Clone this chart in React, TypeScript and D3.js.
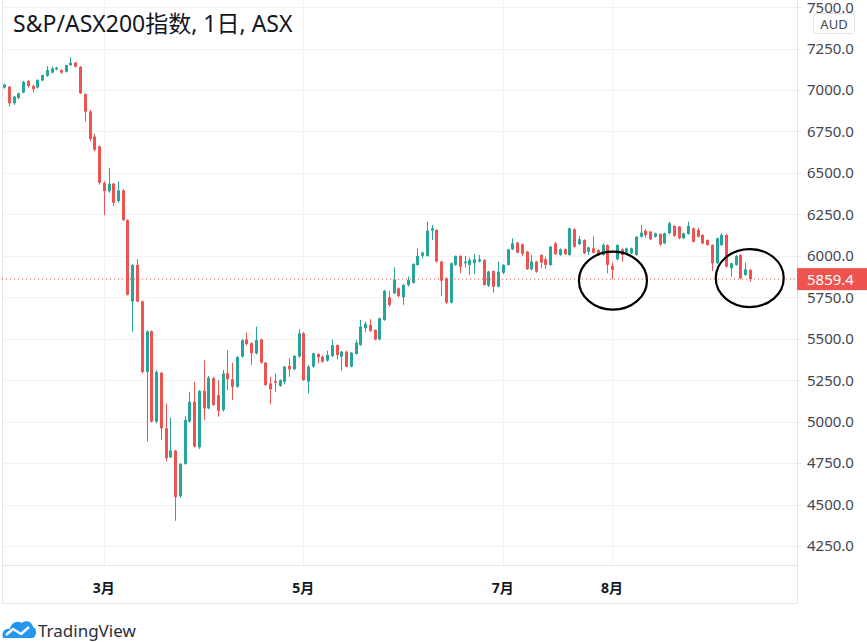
import React from 'react';
import * as d3 from 'd3';

// open, high, low, close
type Candle = [number, number, number, number];

const feb: Candle[] = [
  [7015, 7040, 7008, 7032], [7020, 7025, 6900, 6920], [6920, 6965, 6910, 6960],
  [6952, 6985, 6945, 6980], [6985, 7055, 6980, 7050], [7055, 7060, 7015, 7025],
  [7025, 7030, 6985, 7005], [7015, 7065, 7010, 7060], [7058, 7092, 7052, 7090],
  [7085, 7145, 7080, 7120], [7105, 7140, 7100, 7130], [7125, 7140, 7118, 7135],
  [7120, 7125, 7098, 7105], [7110, 7152, 7105, 7150], [7150, 7197, 7145, 7165],
  [7165, 7170, 7135, 7140], [7140, 7145, 6975, 6980], [6975, 6980, 6810, 6870],
  [6870, 6880, 6690, 6705], [6720, 6735, 6630, 6640], [6660, 6665, 6430, 6440],
];
const mar: Candle[] = [
  [6440, 6450, 6245, 6390], [6390, 6530, 6380, 6435], [6435, 6440, 6300, 6320],
  [6330, 6450, 6320, 6395], [6395, 6400, 6210, 6215], [6215, 6220, 5760, 5765],
  [5725, 5950, 5540, 5945], [5945, 5980, 5720, 5725], [5725, 5730, 5290, 5300],
  [5300, 5550, 4880, 5545], [5545, 5550, 4995, 5000], [5000, 5310, 4990, 5300],
  [5295, 5300, 4890, 4960], [4960, 5110, 4760, 4780], [4785, 5025, 4780, 4825],
  [4825, 4830, 4402, 4546], [4550, 4750, 4540, 4745], [4745, 5035, 4740, 5010],
  [5000, 5180, 4995, 5120], [5120, 5240, 4845, 4850], [4845, 5190, 4835, 5185],
  [5185, 5370, 5010, 5080],
];
const apr: Candle[] = [
  [5080, 5275, 5075, 5265], [5262, 5270, 5095, 5100], [5160, 5250, 5030, 5065],
  [5070, 5312, 5060, 5290], [5292, 5430, 5190, 5256], [5256, 5355, 5130, 5210],
  [5210, 5395, 5205, 5390], [5392, 5500, 5385, 5490], [5496, 5536, 5460, 5468],
  [5473, 5480, 5342, 5412], [5412, 5573, 5405, 5492], [5496, 5500, 5350, 5356],
  [5356, 5360, 5215, 5221], [5230, 5270, 5105, 5195], [5245, 5290, 5180, 5235],
  [5215, 5255, 5210, 5250], [5240, 5335, 5225, 5332], [5336, 5382, 5270, 5316],
  [5316, 5400, 5310, 5397], [5393, 5557, 5385, 5533],
];
const may: Candle[] = [
  [5533, 5540, 5245, 5251], [5241, 5340, 5170, 5332], [5332, 5415, 5325, 5412],
  [5408, 5412, 5352, 5388], [5392, 5400, 5355, 5362], [5368, 5428, 5362, 5402],
  [5396, 5496, 5390, 5462], [5462, 5466, 5376, 5402], [5392, 5426, 5308, 5422],
  [5422, 5428, 5328, 5332], [5332, 5420, 5328, 5416], [5408, 5492, 5404, 5476],
  [5462, 5613, 5458, 5573], [5563, 5603, 5540, 5589], [5583, 5617, 5540, 5548],
  [5553, 5557, 5490, 5496], [5496, 5627, 5490, 5623], [5613, 5795, 5608, 5789],
  [5750, 5788, 5693, 5704], [5774, 5931, 5770, 5858], [5804, 5810, 5750, 5758],
];
const jun: Candle[] = [
  [5750, 5830, 5704, 5824], [5824, 5874, 5815, 5854], [5838, 5955, 5832, 5950],
  [5945, 6045, 5940, 5999], [6000, 6025, 5985, 6020], [6000, 6206, 5995, 6152],
  [6152, 6186, 6095, 6166], [6156, 6160, 5960, 5965], [5965, 5970, 5758, 5850],
  [5864, 5870, 5710, 5718], [5718, 5960, 5712, 5955], [5945, 6002, 5940, 5999],
  [5999, 6005, 5895, 5935], [5955, 6000, 5930, 5965], [5945, 5990, 5885, 5975],
  [5955, 6011, 5890, 5979], [5965, 6005, 5960, 5979], [5975, 5980, 5820, 5824],
  [5820, 5910, 5812, 5905], [5908, 5912, 5778, 5814], [5814, 5965, 5810, 5904],
];
const jul: Candle[] = [
  [5898, 5950, 5890, 5945], [5945, 6042, 5940, 6039], [6039, 6106, 6035, 6075],
  [6079, 6085, 6015, 6019], [6070, 6075, 5998, 6012], [6025, 6030, 5915, 5919],
  [5919, 6005, 5912, 5965], [5965, 5970, 5898, 5904], [6005, 6010, 5925, 5960],
  [5979, 5995, 5922, 5945], [5945, 6060, 5940, 6055], [6075, 6085, 6005, 6011],
  [6005, 6045, 6000, 6039], [6040, 6045, 6005, 6010], [6005, 6170, 6000, 6166],
  [6160, 6165, 6050, 6055], [6071, 6120, 6065, 6100], [6095, 6100, 6010, 6015],
  [6025, 6055, 6005, 6051], [6045, 6120, 6015, 6019], [6035, 6040, 6000, 6005],
  [6005, 6075, 6000, 6065], [6065, 6070, 5895, 5945],
];
const aug: Candle[] = [
  [5939, 5960, 5858, 5915], [5979, 6070, 5975, 6065], [6039, 6045, 5965, 6005],
  [6019, 6050, 6010, 6045], [6015, 6050, 6010, 6045], [6005, 6120, 6000, 6115],
  [6115, 6186, 6110, 6140], [6152, 6160, 6110, 6125], [6145, 6150, 6095, 6100],
  [6115, 6140, 6110, 6136], [6132, 6135, 6060, 6068], [6075, 6140, 6070, 6136],
  [6136, 6206, 6130, 6196], [6180, 6185, 6115, 6120], [6176, 6180, 6100, 6106],
  [6106, 6140, 6100, 6136], [6132, 6206, 6128, 6180], [6166, 6170, 6080, 6085],
  [6156, 6170, 6110, 6115], [6126, 6130, 6070, 6075], [6095, 6100, 6060, 6065],
];
const sep: Candle[] = [
  [6065, 6070, 5910, 5955], [5955, 6110, 5950, 6106], [6065, 6136, 6060, 6126],
  [6126, 6130, 5930, 5935], [5925, 5960, 5874, 5955], [5945, 6005, 5940, 5999],
  [6005, 6010, 5860, 5864], [5884, 5959, 5880, 5919], [5915, 5920, 5844, 5859.4],
];

const candles: Candle[] = [...feb, ...mar, ...apr, ...may, ...jun, ...jul, ...aug, ...sep];

const monthLabels = ['3月', '5月', '7月', '8月'];
const monthStarts = [21, 63, 105, 128];
const priceTicks = [4250, 4500, 4750, 5000, 5250, 5500, 5750, 6000, 6250, 6500, 6750, 7000, 7250, 7500];
const lastPrice = 5859.4;
// bar index and price the hand-drawn circles sit on
const circled = [
  { i: 128.2, p: 5850 },
  { i: 157, p: 5866 },
];

const UP = '#26a69a';
const DOWN = '#ef5350';
const GRID = '#f0f2f7';
const BORDER = '#e0e3eb';
const TEXT = '#131722';
const sans = "'Noto Sans', 'Noto Sans CJK SC', sans-serif";

const W = 867;
const H = 642;
const plotLeft = 2;
const plotRight = 797;
const plotBottom = 565.5;
const axisBottom = 603.5;

export default function App() {
  const x = d3.scaleLinear().domain([0, candles.length - 1]).range([4, 4 + (candles.length - 1) * 4.75]);
  const y = d3.scaleLinear().domain([4250, 7500]).range([546, 7.1]);
  const fmt = d3.format('.1f');

  return (
    <svg width={W} height={H} style={{ position: 'absolute', left: 0, top: 0, background: '#fff' }} fontFamily={sans}>
      {/* grid */}
      {priceTicks.map((t) => (
        <line key={'h' + t} x1={plotLeft} x2={plotRight} y1={Math.round(y(t)) + 0.5} y2={Math.round(y(t)) + 0.5} stroke={GRID} />
      ))}
      {monthStarts.map((m) => (
        <line key={'v' + m} x1={Math.round(x(m)) + 0.5} x2={Math.round(x(m)) + 0.5} y1={0} y2={plotBottom} stroke={GRID} />
      ))}

      {/* frame */}
      <line x1={plotLeft + 0.5} x2={plotLeft + 0.5} y1={0} y2={axisBottom} stroke={BORDER} />
      <line x1={plotRight + 0.5} x2={plotRight + 0.5} y1={0} y2={axisBottom} stroke={BORDER} />
      <line x1={plotLeft} x2={plotRight} y1={plotBottom} y2={plotBottom} stroke={BORDER} />
      <line x1={plotLeft} x2={plotRight} y1={axisBottom} y2={axisBottom} stroke={BORDER} />

      {/* title */}
      <text x={13} y={32} fontSize={23} fill={TEXT}>S&amp;P/ASX200指数, 1日, ASX</text>

      {/* candles */}
      {candles.map(([o, h, l, c], i) => {
        const cx = Math.round(x(i));
        const col = c >= o ? UP : DOWN;
        const top = y(Math.max(o, c));
        const bh = Math.max(1, y(Math.min(o, c)) - top);
        return (
          <g key={i}>
            <line x1={cx + 0.5} x2={cx + 0.5} y1={y(h)} y2={y(l)} stroke={col} />
            <rect x={cx - 1} y={top} width={3} height={bh} fill={col} />
          </g>
        );
      })}

      {/* last price line */}
      <line x1={plotLeft} x2={plotRight} y1={y(lastPrice)} y2={y(lastPrice)} stroke={DOWN} strokeDasharray="1 3" />

      {/* price axis */}
      {priceTicks.map((t) => (
        <g key={'t' + t}>
          <line x1={plotRight} x2={plotRight + 4} y1={Math.round(y(t)) + 0.5} y2={Math.round(y(t)) + 0.5} stroke={BORDER} />
          <text x={807} y={Math.max(y(t), 8)} dy="0.36em" fontSize={15} fill="#434651">{fmt(t)}</text>
        </g>
      ))}
      <rect x={813.5} y={13.5} width={41} height={20} rx={3} fill="#fff" stroke={BORDER} />
      <text x={834} y={24} dy="0.36em" textAnchor="middle" fontSize={13} fill="#434651">AUD</text>

      <rect x={plotRight} y={y(lastPrice) - 11} width={W - plotRight} height={22} fill={DOWN} />
      <text x={807} y={y(lastPrice)} dy="0.36em" fontSize={15} fill="#fff">{fmt(lastPrice)}</text>

      {/* time axis */}
      {monthStarts.map((m, k) => (
        <text key={'m' + m} x={x(m)} y={588} dy="0.36em" textAnchor="middle" fontSize={14} fontWeight="bold" fill={TEXT}>
          {monthLabels[k]}
        </text>
      ))}

      {/* circles drawn on the chart */}
      {circled.map((d, k) => (
        <ellipse key={'e' + k} cx={x(d.i)} cy={y(d.p)} rx={34} ry={29} fill="none" stroke="#000" strokeWidth={2.2} />
      ))}

      {/* watermark */}
      <g transform="translate(2,619)">
        <path d="M1 19 C-1 13 3 9 8 10 C9 4 15 1 20 4 C23 1 30 2 31 8 C35 9 35 17 31 19 Z" fill="#2196f3" />
        <polyline points="4,16 11,10 19,15 27,8" fill="none" stroke="#fff" strokeWidth={2.4} strokeLinejoin="round" />
      </g>
      <text x={38} y={637} fontSize={17} fill="#2a2e39">TradingView</text>
    </svg>
  );
}
